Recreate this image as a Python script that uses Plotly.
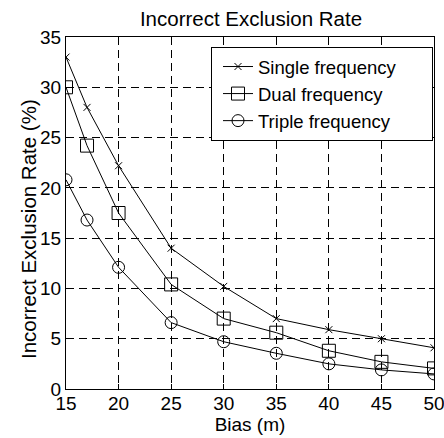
import plotly.graph_objects as go

bias = [15, 17, 20, 25, 30, 35, 40, 45, 50]
single = [33.0, 28.0, 22.2, 14.0, 10.2, 7.0, 5.9, 5.0, 4.1]
dual = [30.0, 24.2, 17.5, 10.4, 7.0, 5.6, 3.8, 2.7, 2.05]
triple = [20.8, 16.8, 12.1, 6.6, 4.7, 3.55, 2.5, 1.9, 1.5]
names = ["Single frequency", "Dual frequency", "Triple frequency"]
x_ticks = [15, 20, 25, 30, 35, 40, 45, 50]
y_ticks = [0, 5, 10, 15, 20, 25, 30, 35]

font = "Liberation Sans, Arial, sans-serif"
fig = go.Figure()
styles = [("x-thin-open", 7), ("square-open", 13), ("circle-open", 12)]
pad = "\u00a0" * 6
for ys, nm, (sym, sz) in zip([single, dual, triple], names, styles):
    fig.add_trace(go.Scatter(
        x=bias, y=ys, name=nm + pad, mode="lines+markers",
        line=dict(color="black", width=1),
        marker=dict(symbol=sym, size=sz, color="black",
                    line=dict(color="black", width=1)),
    ))

axis_common = dict(
    showline=True, linecolor="black", linewidth=1, mirror="ticks",
    ticks="inside", ticklen=5, tickcolor="black",
    showgrid=True, gridcolor="black", gridwidth=1, griddash="8px,5px",
    zeroline=False, automargin=False,
    tickfont=dict(size=19, color="black", family=font),
)
fig.update_xaxes(range=[15, 50], tickvals=x_ticks, ticklabeloverflow="allow",
                 ticklabelstandoff=-3,
                 title=dict(text="Bias (m)", standoff=2, font=dict(size=19, color="black", family=font)),
                 **axis_common)
fig.update_yaxes(range=[0, 35], tickvals=y_ticks, **axis_common)

fig.add_annotation(
    text="Incorrect Exclusion Rate (%)", textangle=-90,
    xref="paper", yref="paper", x=(28 - 66) / 368, y=(389 - 229) / 352,
    xanchor="center", yanchor="middle", showarrow=False,
    font=dict(size=20.5, color="black", family=font),
)

fig.update_layout(
    width=444, height=438,
    margin=dict(l=66, r=10, t=37, b=49, autoexpand=False),
    paper_bgcolor="white", plot_bgcolor="white",
    title=dict(text="Incorrect Exclusion Rate", x=251 / 444, xanchor="center",
               y=(438 - 19) / 438, yanchor="middle",
               font=dict(size=20.5, color="black", family=font)),
    legend=dict(x=(433 - 66) / 368, xanchor="right",
                y=(389 - 47) / 352, yanchor="top",
                bordercolor="black", borderwidth=1, bgcolor="white",
                font=dict(size=18.5, color="black", family=font),
                tracegroupgap=0, itemsizing="trace", indentation=6),
    showlegend=True,
)
fig.write_html("out.html", config={"displayModeBar": False},
               post_script="document.body.style.margin='0';document.body.style.overflow='hidden';")
